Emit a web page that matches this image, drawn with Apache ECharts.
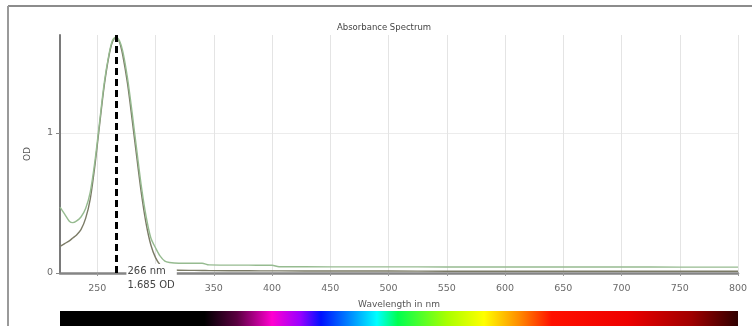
<!DOCTYPE html>
<html>
<head>
<meta charset="utf-8">
<title>Absorbance Spectrum</title>
<script src="https://cdn.jsdelivr.net/npm/echarts@6/dist/echarts.min.js"></script>
<style>
  html, body { margin: 0; padding: 0; background: #fff; }
  #chart { width: 752px; height: 326px; }
</style>
</head>
<body>
<div id="chart"></div>
<script>
// Wavelength grid (nm) shared by both absorbance traces
const wavelengthNm = [218, 222, 226, 229, 232, 236, 240, 244, 248, 252, 256, 260, 263, 266, 269, 272, 276, 280, 284, 288,
  292, 296, 300, 304, 308, 312, 320, 340, 346, 380, 400, 406, 450, 500, 550, 600, 650, 700, 750, 800];

// Trace 1 (green) optical density
const absorbanceA = [0.47, 0.42, 0.37, 0.36, 0.37, 0.40, 0.46, 0.58, 0.80, 1.08, 1.36, 1.56, 1.66, 1.685, 1.66, 1.58, 1.39, 1.14, 0.87, 0.61,
  0.40, 0.25, 0.18, 0.12, 0.085, 0.075, 0.07, 0.07, 0.058, 0.056, 0.055, 0.045, 0.044, 0.044, 0.043, 0.043, 0.043, 0.043, 0.042, 0.042];

// Trace 2 (dark) optical density
const absorbanceB = [0.19, 0.21, 0.23, 0.25, 0.27, 0.31, 0.39, 0.53, 0.77, 1.06, 1.34, 1.55, 1.65, 1.68, 1.65, 1.55, 1.35, 1.09, 0.82, 0.56,
  0.35, 0.20, 0.11, 0.058, 0.036, 0.025, 0.02, 0.018, 0.017, 0.016, 0.015, 0.015, 0.014, 0.014, 0.013, 0.013, 0.013, 0.012, 0.012, 0.012];

// Cursor reading at the absorbance maximum
const peakNm = 266;
const peakOd = 1.685;

// Axis ticks
const xTickValues = [250, 300, 350, 400, 450, 500, 550, 600, 650, 700, 750, 800];
const yTickValues = [0, 1];
const xRange = [218, 800];
const yRange = [0, 1.7];

// Visible-light colour band under the axis: [wavelength nm, colour]
const spectrumStops = [
  [218, '#000000'], [342, '#000000'], [370, '#5a0040'], [400, '#ff00d0'], [424, '#9a00ff'],
  [442, '#0010ff'], [465, '#0080ff'], [490, '#00ffff'], [508, '#00ff50'], [550, '#a8ff00'],
  [582, '#ffff00'], [612, '#ff8c00'], [640, '#ff1000'], [705, '#ee0000'], [760, '#a00000'], [800, '#300000']
];

const toPairs = (xs, ys) => xs.map((x, i) => [x, ys[i]]);

const chart = echarts.init(document.getElementById('chart'), null, { renderer: 'canvas' });
const FONT = 'DejaVu Sans';

const bandStart = spectrumStops[0][0];
const bandEnd = spectrumStops[spectrumStops.length - 1][0];
const bandGradient = spectrumStops.map(([nm, color]) => ({
  offset: (nm - bandStart) / (bandEnd - bandStart),
  color
}));

chart.setOption({
  animation: false,
  backgroundColor: '#ffffff',
  title: {
    text: 'Absorbance Spectrum',
    left: 379,
    top: 18,
    textAlign: 'center',
    textStyle: { fontFamily: FONT, fontSize: 8.5, fontWeight: 'normal', color: '#444' }
  },
  graphic: [
    { type: 'line', shape: { x1: 8, y1: 6, x2: 752, y2: 6 }, style: { stroke: '#8c8c8c', lineWidth: 2 } },
    { type: 'line', shape: { x1: 8, y1: 6, x2: 8, y2: 326 }, style: { stroke: '#9a9a9a', lineWidth: 2 } }
  ],
  grid: [
    { left: 60, right: 14, top: 35, bottom: 53 },
    { left: 60, right: 14, top: 311, height: 20 }
  ],
  xAxis: [
    {
      type: 'value',
      gridIndex: 0,
      min: xRange[0],
      max: xRange[1],
      name: 'Wavelength in nm',
      nameLocation: 'middle',
      nameGap: 27,
      nameTextStyle: { fontFamily: FONT, fontSize: 9, color: '#555' },
      axisLine: { show: true, lineStyle: { color: '#858585', width: 2.5 } },
      axisTick: { show: true, length: 3, customValues: xTickValues, lineStyle: { color: '#999' } },
      axisLabel: { customValues: xTickValues, fontFamily: FONT, fontSize: 9.5, color: '#6a6a6a', margin: 11 },
      splitLine: { show: true, lineStyle: { color: '#e4e4e4', width: 1 } }
    },
    { type: 'value', gridIndex: 1, min: bandStart, max: bandEnd, show: false }
  ],
  yAxis: [
    {
      type: 'value',
      gridIndex: 0,
      min: yRange[0],
      max: yRange[1],
      name: 'OD',
      nameLocation: 'middle',
      nameGap: 28,
      nameRotate: 90,
      nameTextStyle: { fontFamily: FONT, fontSize: 9, color: '#555' },
      axisLine: { show: true, lineStyle: { color: '#7a7a7a', width: 2 } },
      axisTick: { show: true, length: 4, customValues: yTickValues, lineStyle: { color: '#888' } },
      axisLabel: { customValues: yTickValues, fontFamily: FONT, fontSize: 9.5, color: '#6a6a6a', margin: 7 },
      splitLine: { show: true, lineStyle: { color: '#ececec', width: 1 } }
    },
    { type: 'value', gridIndex: 1, min: 0, max: 1, show: false }
  ],
  series: [
    {
      name: 'Trace 2',
      type: 'line',
      xAxisIndex: 0,
      yAxisIndex: 0,
      data: toPairs(wavelengthNm, absorbanceB),
      smooth: 0.3,
      showSymbol: false,
      lineStyle: { color: '#7b7b66', width: 1.4 },
      z: 3
    },
    {
      name: 'Trace 1',
      type: 'line',
      xAxisIndex: 0,
      yAxisIndex: 0,
      data: toPairs(wavelengthNm, absorbanceA),
      smooth: 0.3,
      showSymbol: false,
      lineStyle: { color: '#96bb90', width: 1.4 },
      z: 3,
      markLine: {
        silent: true,
        symbol: ['none', 'none'],
        label: { show: false },
        lineStyle: { color: '#000', width: 3, type: [7, 4] },
        data: [{ xAxis: peakNm }],
        z: 5
      },
      markPoint: {
        silent: true,
        symbol: 'rect',
        symbolSize: 1,
        itemStyle: { color: 'rgba(0,0,0,0)' },
        label: {
          show: true,
          position: 'right',
          distance: 10,
          offset: [0, 5],
          formatter: peakNm + ' nm\n' + peakOd.toFixed(3) + ' OD',
          fontFamily: FONT,
          fontSize: 10,
          lineHeight: 14,
          color: '#444',
          align: 'left',
          backgroundColor: '#ffffff',
          padding: [0, 2, 0, 1]
        },
        data: [{ coord: [peakNm, 0] }],
        z: 6
      }
    },
    {
      name: 'Visible band',
      type: 'custom',
      xAxisIndex: 1,
      yAxisIndex: 1,
      silent: true,
      data: [[bandStart, bandEnd]],
      renderItem: function (params, api) {
        const a = api.coord([api.value(0), 1]);
        const b = api.coord([api.value(1), 0]);
        return {
          type: 'rect',
          shape: { x: a[0], y: a[1], width: b[0] - a[0], height: b[1] - a[1] },
          style: { fill: new echarts.graphic.LinearGradient(0, 0, 1, 0, bandGradient) }
        };
      }
    }
  ]
});
</script>
</body>
</html>
